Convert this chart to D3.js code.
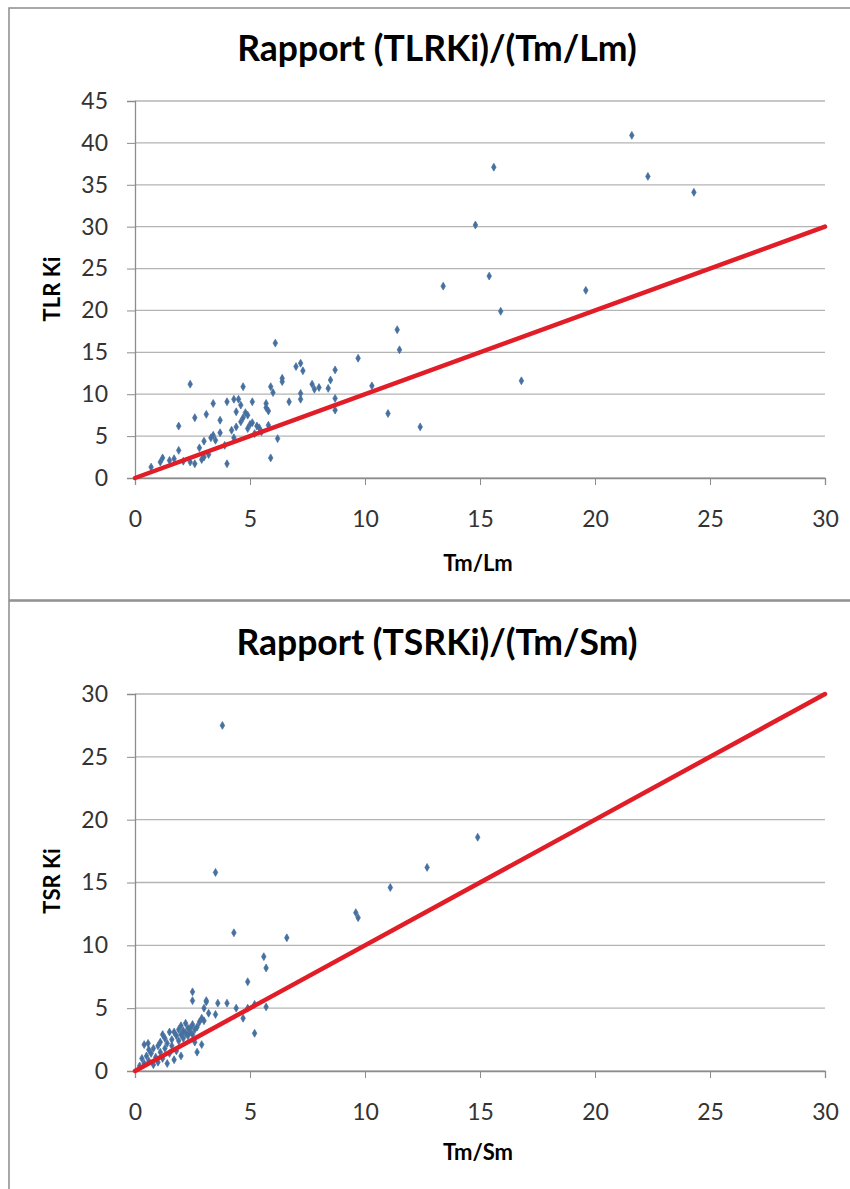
<!DOCTYPE html>
<html><head><meta charset="utf-8">
<script src="https://cdnjs.cloudflare.com/ajax/libs/d3/7.8.5/d3.min.js"></script>
<style>body{margin:0;background:#fff}svg{display:block}</style>
</head><body>
<script>
// ---- Data ----
const xTicks = [0,5,10,15,20,25,30];
const yTicksTop = [0,5,10,15,20,25,30,35,40,45];
const yTicksBottom = [0,5,10,15,20,25,30];
const titleTop = "Rapport (TLRKi)/(Tm/Lm)";
const titleBottom = "Rapport (TSRKi)/(Tm/Sm)";
const xLabelTop = "Tm/Lm", yLabelTop = "TLR Ki";
const xLabelBottom = "Tm/Sm", yLabelBottom = "TSR Ki";
const refLine = [[0,0],[30,30]];

const tlrX = [0.7,1.1,1.2,1.5,1.7,1.9,1.9,2.1,2.4,2.4,2.6,2.6,2.8,2.9,3.0,3.0,3.1,3.2,3.3,3.4,3.4,3.5,3.7,3.7,3.9,4.0,4.0,4.2,4.3,4.3,4.4,4.4,4.5,4.6,4.6,4.7,4.7,4.8,4.9,4.9,5.0,5.1,5.1,5.2,5.3,5.4,5.5,5.7,5.7,5.8,5.8,5.9,5.9,6.0,6.1,6.2,6.4,6.4,6.7,7.0,7.2,7.2,7.2,7.3,7.7,7.8,8.0,8.4,8.5,8.7,8.7,8.7,9.7,10.3,11.0,11.4,11.5,12.4,13.4,14.8,15.4,15.6,15.9,16.8,19.6,21.6,22.3,24.3];
const tlrY = [1.3,1.9,2.4,2.1,2.3,3.3,6.2,2.0,1.9,11.2,1.7,7.2,3.6,2.2,2.5,4.4,7.6,2.8,4.8,5.1,8.9,4.5,5.4,6.9,3.9,1.7,9.1,5.7,9.4,4.8,6.1,7.9,9.4,8.7,6.7,10.9,7.2,7.8,7.5,5.9,6.4,9.1,6.6,5.3,6.2,6.0,5.5,8.9,8.4,6.3,8.0,2.4,10.9,10.2,16.1,4.7,11.9,11.5,9.1,13.3,13.7,10.1,9.4,12.8,11.2,10.6,10.8,10.7,11.7,12.9,9.5,8.1,14.3,11.0,7.7,17.7,15.3,6.1,22.9,30.2,24.1,37.1,19.9,11.6,22.4,40.9,36.0,34.1];

const tsrX = [3.8,3.5,14.9,12.7,11.1,9.6,9.7,6.6,4.3,5.6,5.7,4.9,5.2,3.1,3.6,4.0,4.4,4.9,5.2,5.7,4.7,3.5,3.0,2.5,2.5,3.1,3.0,
  0.2,0.3,0.4,0.4,0.5,0.6,0.7,0.8,0.8,0.9,1.0,1.0,1.1,1.1,1.2,1.3,1.3,1.4,1.4,1.5,1.5,1.6,1.6,1.7,1.7,1.8,1.8,1.9,1.9,2.0,2.0,2.1,2.1,2.2,2.2,2.3,2.3,2.4,2.4,2.5,2.5,2.6,2.7,2.7,2.8,2.9,2.9,2.6,3.2,0.6,1.2,2.0,0.57];
const tsrY = [27.5,15.8,18.6,16.2,14.6,12.6,12.2,10.6,11.0,9.1,8.2,7.1,3.0,5.5,5.4,5.4,5.0,5.0,5.3,5.1,4.2,4.5,4.0,6.3,5.6,5.6,5.0,
  0.4,1.0,0.6,2.1,1.2,0.8,1.4,0.5,1.8,1.1,2.0,0.7,1.5,2.3,1.0,1.8,2.6,0.6,2.2,1.4,3.1,2.5,2.0,3.1,0.9,2.8,1.6,3.3,2.4,2.9,3.6,2.6,3.2,3.0,3.8,2.8,3.4,3.4,3.1,3.7,2.9,3.3,1.5,3.5,3.9,2.1,4.2,2.3,4.6,1.7,2.9,1.2,2.2];

// ---- Drawing ----
const W = 850, H = 1189;
const svg = d3.select("body").append("svg").attr("width", W).attr("height", H);
const FONT = "Lato, 'Open Sans', sans-serif";

// frames
svg.append("rect").attr("x",9).attr("y",8).attr("width",W).attr("height",592)
  .attr("fill","none").attr("stroke","#8c8c8c").attr("stroke-width",1.5);
svg.append("rect").attr("x",9).attr("y",601).attr("width",W).attr("height",700)
  .attr("fill","none").attr("stroke","#8c8c8c").attr("stroke-width",1.5);

function chart(opt) {
  const g = svg.append("g");
  const x = d3.scaleLinear().domain([0,30]).range([135,825]);
  const y = d3.scaleLinear().domain([0, opt.yMax]).range([opt.y0, opt.yTop]);

  // gridlines
  g.selectAll("line.grid").data(opt.yTicks).join("line")
    .attr("x1", x(0)).attr("x2", x(30))
    .attr("y1", d => y(d)).attr("y2", d => y(d))
    .attr("stroke", "#b4b4b4").attr("stroke-width", 1.3);

  // y axis
  const ya = g.append("g").attr("transform", `translate(${x(0)},0)`)
    .call(d3.axisLeft(y).tickValues(opt.yTicks).tickSize(8).tickPadding(19).tickFormat(d3.format("d")));
  ya.select(".domain").attr("stroke", "#8c8c8c").attr("stroke-width", 1.3);
  ya.selectAll(".tick line").attr("stroke", "#8c8c8c");
  ya.selectAll("text").attr("font-family", FONT).attr("font-size", 23).attr("fill", "#333");

  // x axis
  const xa = g.append("g").attr("transform", `translate(0,${y(0)})`)
    .call(d3.axisBottom(x).tickValues(xTicks).tickSize(7).tickPadding(26).tickFormat(d3.format("d")));
  xa.select(".domain").attr("stroke", "#8c8c8c").attr("stroke-width", 1.3);
  xa.selectAll(".tick line").attr("stroke", "#8c8c8c");
  xa.selectAll("text").attr("font-family", FONT).attr("font-size", 23).attr("fill", "#333");

  // points
  const pts = opt.xs.map((v, i) => [v, opt.ys[i]]);
  g.selectAll("path.pt").data(pts).join("path")
    .attr("d", d3.symbol().type(d3.symbolDiamond).size(18))
    .attr("transform", d => `translate(${x(d[0])},${y(d[1])})`)
    .attr("fill", "#46709f").attr("stroke", "#46709f").attr("stroke-width", 0.7);

  // reference line
  g.append("path").datum(refLine)
    .attr("d", d3.line().x(d => x(d[0])).y(d => y(d[1])))
    .attr("stroke", "#e11d27").attr("stroke-width", 4.5).attr("fill", "none")
    .attr("stroke-linecap", "round");

  // titles
  g.append("text").attr("x", 437).attr("y", opt.titleY).attr("text-anchor", "middle")
    .attr("font-family", FONT).attr("font-weight", "bold").attr("font-size", 35.5).attr("fill", "#000")
    .text(opt.title);
  g.append("text").attr("x", 478).attr("y", opt.xLabY).attr("text-anchor", "middle")
    .attr("font-family", FONT).attr("font-weight", "bold").attr("font-size", 22).attr("fill", "#000")
    .text(opt.xLab);
  g.append("text").attr("transform", `translate(60,${opt.yLabY}) rotate(-90)`).attr("text-anchor", "middle")
    .attr("font-family", FONT).attr("font-weight", "bold").attr("font-size", 22).attr("fill", "#000")
    .text(opt.yLab);
}

chart({yMax:45, y0:478, yTop:101, yTicks:yTicksTop, xs:tlrX, ys:tlrY,
  title:titleTop, titleY:61, xLab:xLabelTop, xLabY:571, yLab:yLabelTop, yLabY:289});
chart({yMax:30, y0:1071, yTop:694, yTicks:yTicksBottom, xs:tsrX, ys:tsrY,
  title:titleBottom, titleY:655, xLab:xLabelBottom, xLabY:1160, yLab:yLabelBottom, yLabY:881});
</script>
</body></html>
